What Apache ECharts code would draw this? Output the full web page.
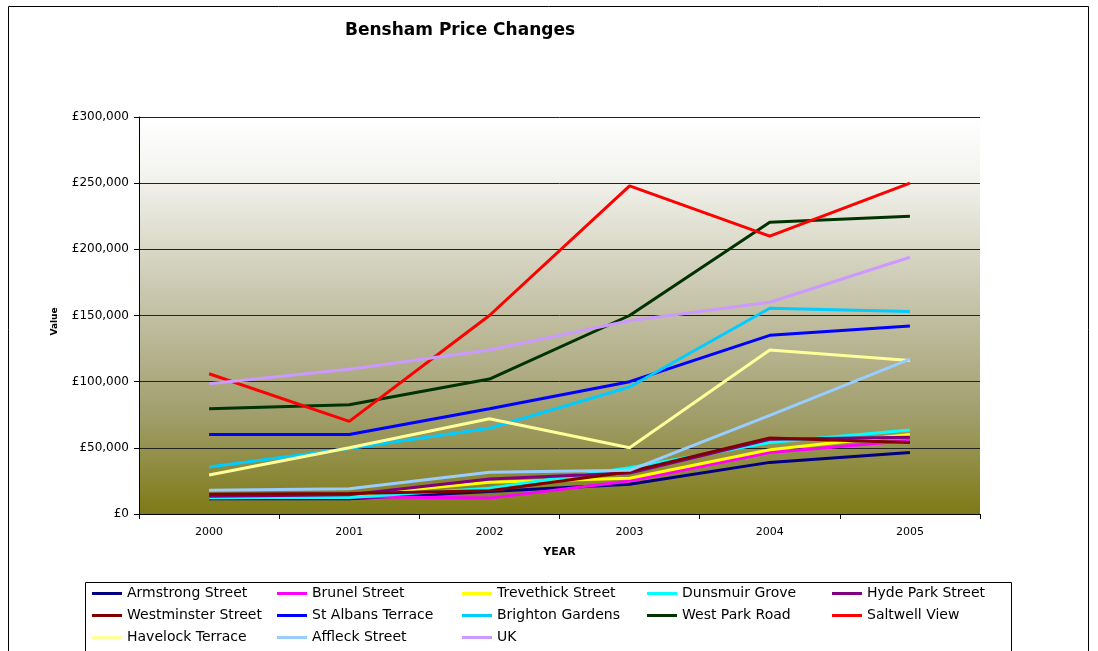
<!DOCTYPE html>
<html>
<head>
<meta charset="utf-8">
<script src="https://cdn.jsdelivr.net/npm/echarts@6/dist/echarts.min.js"></script>
<style>html,body{margin:0;padding:0;background:#fff}#c{width:1098px;height:651px}</style>
</head>
<body>
<div id="c"></div>
<script>
const years = ['2000','2001','2002','2003','2004','2005'];
const seriesNames = ['Armstrong Street','Brunel Street','Trevethick Street','Dunsmuir Grove','Hyde Park Street','Westminster Street','St Albans Terrace','Brighton Gardens','West Park Road','Saltwell View','Havelock Terrace','Affleck Street','UK'];
const armstrong   = [11500, 11500, 17000, 22500, 39000, 46500];
const brunel      = [12000, 13000, 12000, 25000, 46500, 55500];
const trevethick  = [13000, 14000, 24000, 27000, 48500, 60000];
const dunsmuir    = [12500, 12500, 19500, 35000, 54000, 63500];
const hydePark    = [13500, 14500, 26500, 31000, 56500, 58000];
const westminster = [15000, 15500, 17500, 32000, 57500, 54000];
const stAlbans    = [60000, 60000, 79500, 100000, 135000, 142000];
const brighton    = [35500, 49500, 64800, 96000, 155500, 153000];
const westPark    = [79500, 82500, 102000, 150000, 220500, 225000];
const saltwell    = [106000, 70000, 150000, 248000, 210000, 250000];
const havelock    = [29500, 50000, 72000, 50000, 124000, 116000];
const affleck     = [18000, 19000, 31500, 33000, 74500, 117000];
const uk          = [98500, 109300, 124000, 146000, 160000, 194000];
const yTicks = [0, 50000, 100000, 150000, 200000, 250000, 300000];

const values = [armstrong, brunel, trevethick, dunsmuir, hydePark, westminster, stAlbans, brighton, westPark, saltwell, havelock, affleck, uk];
const colors = ['#000080','#FF00FF','#FFFF00','#00FFFF','#800080','#800000','#0000FF','#00CCFF','#003300','#FF0000','#FFFF99','#99CCFF','#CC99FF'];

const chart = echarts.init(document.getElementById('c'));
const font = 'DejaVu Sans, Liberation Sans, Arial, sans-serif';
chart.setOption({
  backgroundColor: '#fff',
  animation: false,
  color: colors,
  title: {
    text: 'Bensham Price Changes', left: 345, top: 22, padding: 0,
    textStyle: {fontFamily: font, fontSize: 17, fontWeight: 'bold', color: '#000'}
  },
  graphic: [
    {type: 'rect', shape: {x: 8.5, y: 6.5, width: 1080, height: 660}, style: {fill: 'none', stroke: '#000', lineWidth: 1}, z: -1},
    {type: 'rect', shape: {x: 85.5, y: 582.5, width: 926, height: 80}, style: {fill: 'none', stroke: '#000', lineWidth: 1}, z: -1}
  ],
  legend: {
    left: 92, top: 585, width: 930, padding: 0,
    itemGap: 5, itemWidth: 30, itemHeight: 3, icon: 'rect',
    textStyle: {fontFamily: font, fontSize: 14, color: '#000', width: 145, lineHeight: 17, overflow: 'none'},
    data: seriesNames
  },
  grid: {
    left: 139, right: 118, top: 117, bottom: 137,
    show: true, borderWidth: 0,
    backgroundColor: new echarts.graphic.LinearGradient(0, 0, 0, 1, [
      {offset: 0, color: '#ffffff'},
      {offset: 0.15, color: '#f3f3ee'},
      {offset: 0.45, color: '#c8c6ad'},
      {offset: 0.75, color: '#a19e6c'},
      {offset: 1, color: '#7e7a16'}
    ])
  },
  xAxis: {
    type: 'category', data: years, boundaryGap: true,
    name: 'YEAR', nameLocation: 'middle', nameGap: 33,
    nameTextStyle: {fontFamily: font, fontSize: 11, fontWeight: 'bold', color: '#000'},
    axisLine: {lineStyle: {color: '#000', width: 1}},
    axisTick: {show: true, length: 5, lineStyle: {color: '#000'}},
    axisLabel: {fontFamily: font, fontSize: 11, color: '#000', margin: 13},
    splitLine: {show: false}
  },
  yAxis: {
    type: 'value', min: 0, max: 300000, interval: 50000,
    name: 'Value', nameLocation: 'middle', nameGap: 80, nameRotate: 90,
    nameTextStyle: {fontFamily: font, fontSize: 9, fontWeight: 'bold', color: '#000', padding: [0, 12, 0, 0]},
    axisLine: {show: true, lineStyle: {color: '#000', width: 1}},
    axisTick: {show: true, length: 5, lineStyle: {color: '#000'}},
    axisLabel: {fontFamily: font, fontSize: 12, color: '#000', margin: 10,
      formatter: v => yTicks.includes(v) ? '£' + v.toLocaleString('en-GB') : ''},
    splitLine: {show: true, lineStyle: {color: '#222', width: 1}}
  },
  series: seriesNames.map((n, i) => ({
    name: n, type: 'line', data: values[i],
    symbol: 'none', lineStyle: {width: 3, color: colors[i]},
    itemStyle: {color: colors[i]}
  }))
});
</script>
</body>
</html>
